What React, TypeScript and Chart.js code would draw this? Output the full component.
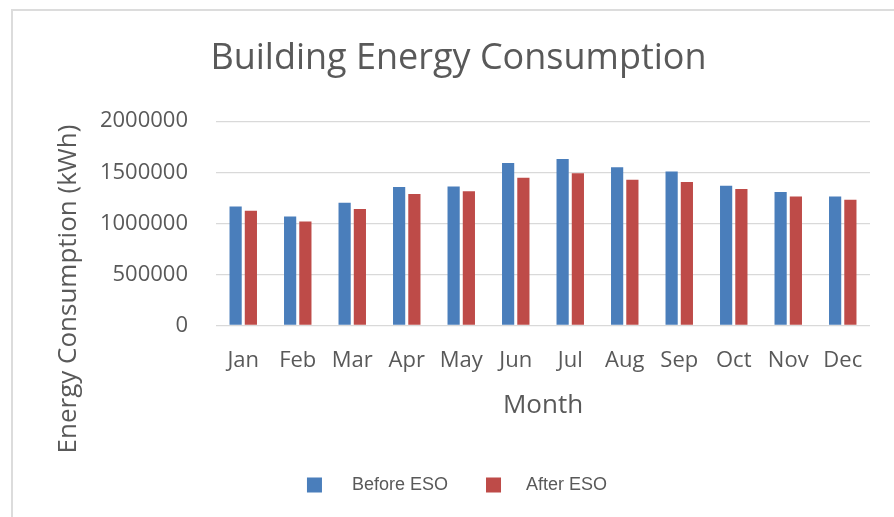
import React, { useEffect, useRef } from 'react';
import { Chart, registerables } from 'chart.js';

Chart.register(...registerables);

const TITLE = 'Building Energy Consumption';
const X_TITLE = 'Month';
const Y_TITLE = 'Energy Consumption (kWh)';
const MONTHS = ['Jan', 'Feb', 'Mar', 'Apr', 'May', 'Jun', 'Jul', 'Aug', 'Sep', 'Oct', 'Nov', 'Dec'];
const SERIES_NAMES = ['Before ESO', 'After ESO'];
const BEFORE_ESO = [1165000, 1067000, 1201000, 1355000, 1361000, 1590000, 1630000, 1550000, 1508000, 1367000, 1306000, 1263000];
const AFTER_ESO = [1122000, 1018000, 1139000, 1286000, 1315000, 1446000, 1490000, 1426000, 1404000, 1335000, 1263000, 1230000];
const Y_MIN = 0;
const Y_MAX = 2000000;
const Y_STEP = 500000;

const COLORS = ['#4a7ebb', '#be4b48'];
const TEXT_COLOR = '#595959';
const GRID_COLOR = '#d9d9d9';
const FONT = "'Open Sans', sans-serif";

const yTitlePlugin = {
  id: 'yTitleCustom',
  afterDraw(chart: any) {
    const ctx = chart.ctx;
    ctx.save();
    ctx.font = `26px ${FONT}`;
    ctx.fillStyle = TEXT_COLOR;
    ctx.textAlign = 'center';
    ctx.textBaseline = 'middle';
    ctx.translate(69, 289);
    ctx.rotate(-Math.PI / 2);
    ctx.fillText(Y_TITLE, 0, 0);
    ctx.restore();
  },
};

const legendPlugin = {
  id: 'legendCustom',
  afterDraw(chart: any) {
    const ctx = chart.ctx;
    ctx.save();
    ctx.font = "18px 'Liberation Sans', Arial, sans-serif";
    const box = 15;
    const gaps = [30, 25];
    const itemGap = 38;
    const ds = chart.data.datasets;
    const widths = ds.map((d: any) => ctx.measureText(d.label).width);
    const total = widths.reduce((s: number, w: number, i: number) => s + box + gaps[i] + w, 0) + itemGap * (ds.length - 1);
    let x = 457 - total / 2;
    const cy = 485;
    ds.forEach((d: any, i: number) => {
      ctx.fillStyle = d.backgroundColor;
      ctx.fillRect(x, cy - box / 2, box, box);
      x += box + gaps[i];
      ctx.fillStyle = TEXT_COLOR;
      ctx.textAlign = 'left';
      ctx.textBaseline = 'middle';
      ctx.fillText(d.label, x, cy);
      x += widths[i] + itemGap;
    });
    ctx.restore();
  },
};

export default function App() {
  const ref = useRef<HTMLCanvasElement | null>(null);

  useEffect(() => {
    if (!ref.current) return;
    const chart = new Chart(ref.current, {
      type: 'bar',
      data: {
        labels: MONTHS,
        datasets: [
          { label: SERIES_NAMES[0], data: BEFORE_ESO, backgroundColor: COLORS[0], borderWidth: 0 },
          { label: SERIES_NAMES[1], data: AFTER_ESO, backgroundColor: COLORS[1], borderWidth: 0 },
        ],
      },
      options: {
        responsive: false,
        animation: false,
        datasets: { bar: { categoryPercentage: 0.56, barPercentage: 0.8 } },
        layout: { padding: { left: 47, right: 24, top: 0, bottom: 96 } },
        plugins: {
          legend: { display: false },
          tooltip: { enabled: false },
          title: {
            display: true,
            text: TITLE,
            color: TEXT_COLOR,
            font: { family: FONT, size: 36, weight: 'normal' },
            padding: { top: 37, bottom: 41 },
          },
        },
        scales: {
          x: {
            grid: { display: false, drawTicks: false },
            border: { display: false },
            ticks: { color: TEXT_COLOR, font: { family: FONT, size: 22 }, padding: 22, maxRotation: 0 },
            title: {
              display: true,
              text: X_TITLE,
              color: TEXT_COLOR,
              font: { family: FONT, size: 26 },
              padding: { top: -6, bottom: 0 },
            },
          },
          y: {
            min: Y_MIN,
            max: Y_MAX,
            afterFit: (scale: any) => {
              scale.width = 169;
            },
            grid: { color: GRID_COLOR, lineWidth: 1.3, drawTicks: false },
            border: { display: false },
            ticks: {
              stepSize: Y_STEP,
              color: TEXT_COLOR,
              font: { family: FONT, size: 22 },
              padding: 28,
              callback: (v: any) => String(v),
            },
          },
        },
      },
      plugins: [yTitlePlugin, legendPlugin],
    });
    return () => chart.destroy();
  }, []);

  return (
    <div style={{ position: 'fixed', left: 0, top: 0, width: 894, height: 517, background: '#fff', overflow: 'hidden' }}>
      <div
        style={{
          position: 'absolute',
          left: 11,
          top: 9,
          right: -4,
          bottom: -4,
          borderTop: '2px solid #dcdcdc',
          borderLeft: '2px solid #dcdcdc',
        }}
      />
      <canvas ref={ref} width={894} height={517} style={{ position: 'absolute', left: 0, top: 0 }} />
    </div>
  );
}
